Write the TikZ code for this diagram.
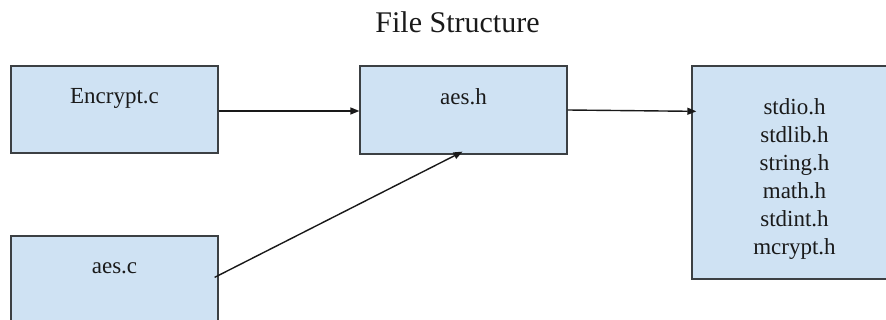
\documentclass[tikz,border=0pt]{standalone}
\usepackage{fontspec}
\setmainfont{Liberation Serif}
\usetikzlibrary{arrows.meta,calc}
\definecolor{boxfill}{HTML}{CFE2F3}
\definecolor{boxline}{HTML}{3C4043}
\definecolor{ink}{HTML}{1A1A1A}
\tikzset{
  filebox/.style={draw=boxline, line width=1.3pt, fill=boxfill, rectangle,
    inner sep=0pt, minimum width=207pt},
  filename/.style={text=ink, inner sep=0pt, font=\fontsize{23}{28}\selectfont},
  link/.style={draw=black!90, line width=1.4pt,
    -{Triangle[length=9pt,width=7pt]}}
}
\begin{document}
\begin{tikzpicture}[x=1pt,y=-1pt]
  \useasboundingbox (0,0) rectangle (886,320);
  \clip (0,0) rectangle (886,320);
  \fill[white] (0,0) rectangle (886,320);

  % heading
  \node[filename, anchor=base, font=\fontsize{30}{36}\selectfont] (title) at (457.5,33) {File Structure};

  % boxes
  \node[filebox, minimum height=87pt] (enc) at (114.5,109.5) {};
  \node[filebox, minimum height=88pt] (aesh) at (463.5,110) {};
  \node[filebox, minimum width=208pt, minimum height=213pt] (std) at (796,172.5) {};
  \node[filebox, minimum height=104pt] (aesc) at (114.5,288) {};

  % box labels
  \node[filename, anchor=base] (enclabel) at (114.5,104) {Encrypt.c};
  \node[filename, anchor=base] (aeshlabel) at (463.5,105) {aes.h};
  \node[filename, anchor=base] (aesclabel) at (114.5,274) {aes.c};
  \node[filename, anchor=north, align=center] (stdlabel) at (794.5,98.3)
    {stdio.h\\stdlib.h\\string.h\\math.h\\stdint.h\\mcrypt.h};

  % include links
  \draw[link] ($(enc.east)+(0,1.5)$) -- ($(aesh.west)+(0,1)$);
  \draw[link] (aesh.east) -- ($(std.north west)+(5,46)$);
  \draw[link] ($(aesc.north east)+(-4,42)$) -- ($(aesh.south)+(-1,-3)$);
\end{tikzpicture}
\end{document}
